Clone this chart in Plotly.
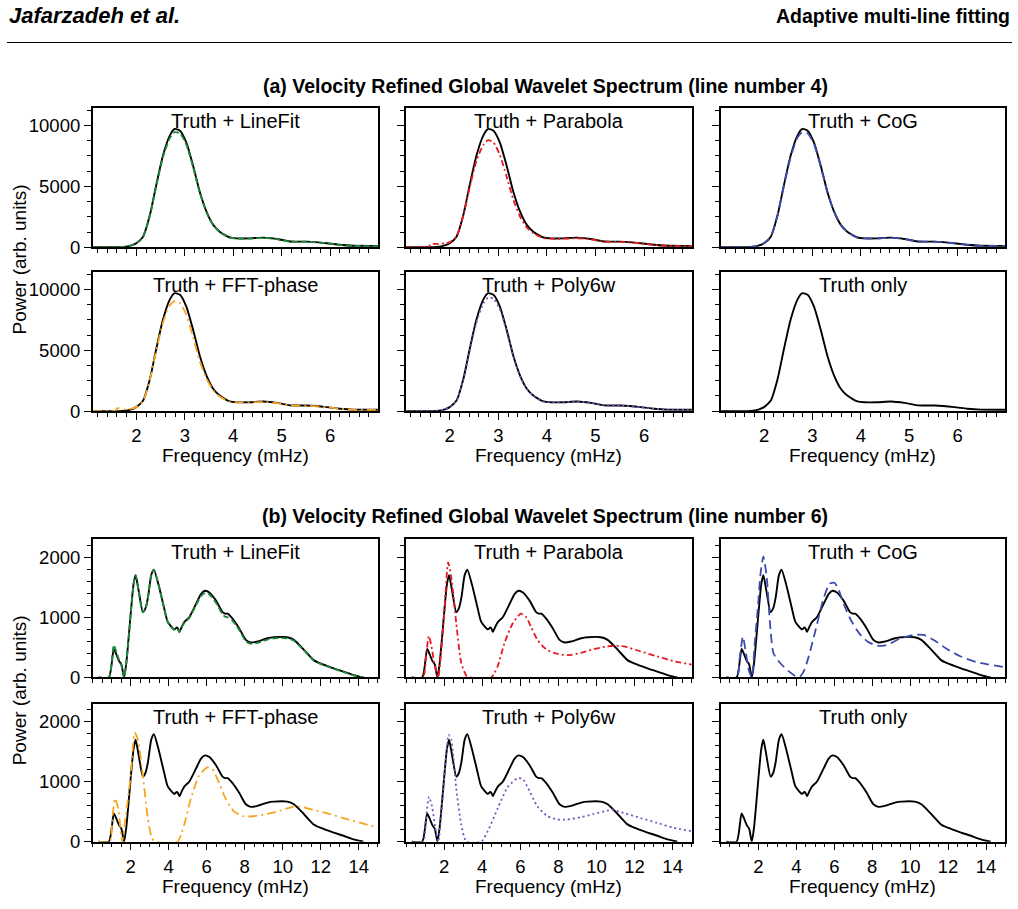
import plotly.graph_objects as go

W, H = 1018, 909

# ---------------- data: (a) line number 4 ----------------
freq_a = [1.1, 1.5, 1.72, 1.9, 2.0, 2.14, 2.28, 2.41, 2.55, 2.69, 2.79, 2.9, 3.03, 3.17, 3.31,
          3.45, 3.59, 3.72, 3.85, 3.93, 4.07, 4.34, 4.62, 4.9, 5.17, 5.52, 5.93, 6.2, 6.48, 7.0]
truth_a = [0, 0, 20, 150, 330, 870, 2640, 5090, 7530, 9170, 9710, 9570, 8620, 6720, 4540,
           2910, 1820, 1280, 950, 800, 730, 730, 790, 680, 470, 460, 330, 200, 120, 110]
linefit_a = [0, 0, 20, 150, 330, 860, 2600, 5000, 7400, 8950, 9450, 9350, 8450, 6600, 4450,
             2850, 1780, 1250, 930, 790, 720, 720, 770, 660, 460, 450, 320, 190, 110, 100]
cog_a = [0, 0, 20, 150, 330, 880, 2650, 5050, 7400, 9000, 9450, 9350, 8500, 6650, 4500,
         2900, 1820, 1280, 950, 800, 730, 730, 790, 680, 470, 460, 330, 200, 120, 110]
poly_a = [0, 0, 20, 150, 330, 860, 2600, 4950, 7300, 8850, 9350, 9250, 8400, 6600, 4450,
          2850, 1800, 1270, 940, 790, 730, 730, 780, 680, 470, 460, 330, 200, 120, 110]
freq_a_bump = [1.1, 1.5, 1.55, 1.62, 1.75, 1.9, 2.0, 2.14, 2.28, 2.41, 2.55, 2.69, 2.79, 2.9, 3.03,
               3.17, 3.31, 3.45, 3.59, 3.72, 3.85, 3.93, 4.07, 4.34, 4.62, 4.9, 5.17, 5.52, 5.93,
               6.2, 6.48, 7.0]
parab_a = [0, 0, 0, 250, 280, 320, 420, 900, 2600, 4900, 7100, 8400, 8800, 8600, 7600,
           5800, 3900, 2500, 1600, 1150, 880, 760, 700, 700, 740, 650, 460, 440, 320,
           200, 120, 110]
fft_a = [0, 0, 0, 250, 150, 200, 330, 860, 2600, 4950, 7300, 8700, 9050, 8900, 7950,
         6100, 4100, 2650, 1700, 1200, 900, 780, 720, 720, 760, 660, 460, 450, 320,
         200, 110, 100]

# ---------------- data: (b) line number 6 ----------------
freq_b = [0.3, 0.85, 1.11, 1.25, 1.39, 1.51, 1.65, 1.77, 2.03, 2.15, 2.26, 2.42, 2.64, 2.78,
          2.91, 3.08, 3.22, 3.46, 3.75, 3.95, 4.3, 4.42, 4.48, 4.56, 4.7, 4.83, 5.09, 5.44,
          5.7, 5.91, 6.14, 6.49, 6.83, 6.97, 7.1, 7.36, 7.71, 8.06, 8.32, 8.67, 9.2, 9.54,
          10.24, 10.59, 11.11, 11.63, 11.98, 12.68, 13.2, 13.73, 14.08, 14.25]
truth_b = [0, 0, 472, 380, 272, 217, 0, 244, 1167, 1550, 1700, 1440, 1086, 1150,
           1330, 1700, 1792, 1547, 1167, 923, 798, 830, 815, 760, 850, 923, 1005, 1222,
           1385, 1440, 1412, 1276, 1086, 1060, 1059, 977, 815, 624, 581, 597, 652, 668,
           668, 624, 462, 288, 233, 152, 98, 38, 11, 0]
linefit_b = [0, 0, 540, 420, 290, 200, 0, 244, 1167, 1550, 1700, 1430, 1080, 1140,
             1330, 1700, 1790, 1540, 1160, 915, 790, 820, 805, 750, 840, 910, 990, 1200,
             1350, 1400, 1380, 1240, 1050, 1010, 1000, 940, 790, 600, 560, 575, 630, 650,
             650, 610, 450, 280, 225, 145, 90, 35, 10, 0]
freq_b_parab = [0.3, 0.9, 1.05, 1.2, 1.34, 1.51, 1.69, 1.85, 2.03, 2.21, 2.38, 2.64, 2.9, 3.17,
                3.34, 4.47, 4.65, 4.82, 5.17, 5.6, 6.03, 6.3, 6.56, 6.9, 7.34, 7.77, 8.47,
                9.17, 9.86, 10.56, 10.9, 11.43, 12.3, 13.17, 14.03, 15.0]
parab_b = [0, 0, 350, 690, 516, 190, 0, 450, 1167, 1911, 1656, 896, 244, 27,
           0, 0, 80, 190, 570, 896, 1059, 1005, 842, 624, 472, 407, 370,
           407, 472, 516, 527, 516, 434, 353, 272, 215]
freq_b_cog = [0.3, 0.87, 1.02, 1.18, 1.34, 1.48, 1.65, 1.8, 1.97, 2.12, 2.26, 2.44, 2.61, 2.79,
              3.13, 3.57, 4.0, 4.18, 4.44, 4.97, 5.4, 5.75, 6.0, 6.18, 6.53, 6.88, 7.31,
              7.75, 8.27, 8.8, 9.5, 10.2, 10.7, 11.24, 11.94, 12.64, 13.5, 15.0]
cog_b = [0, 0, 340, 679, 407, 136, 0, 550, 1167, 1750, 2009, 1656, 896, 407,
         244, 109, 16, 16, 136, 733, 1276, 1558, 1575, 1493, 1195, 950, 733,
         597, 527, 543, 652, 706, 706, 624, 472, 353, 255, 170]
freq_b_fft = [0.3, 0.9, 1.03, 1.17, 1.34, 1.55, 1.75, 2.0, 2.21, 2.38, 2.64, 2.9, 3.08, 3.25,
              4.47, 4.65, 4.82, 5.17, 5.6, 6.03, 6.3, 6.56, 6.99, 7.43, 7.95, 8.47, 9.17,
              9.86, 10.56, 10.9, 11.6, 12.47, 13.34, 14.2, 15.0]
fft_b = [0, 0, 360, 722, 559, 0, 450, 1102, 1819, 1700, 1102, 396, 98, 0,
         0, 120, 288, 722, 1102, 1238, 1211, 1048, 722, 505, 424, 424, 462,
         516, 586, 586, 532, 462, 380, 304, 235]
freq_b_poly = [0.3, 0.9, 1.05, 1.2, 1.37, 1.51, 1.69, 1.95, 2.24, 2.38, 2.64, 2.9, 3.17, 3.95,
               4.3, 4.82, 5.34, 5.86, 6.12, 6.38, 6.9, 7.43, 7.95, 8.47, 9.17, 9.86, 10.56,
               10.82, 11.43, 12.3, 13.17, 14.03, 15.0]
poly_b = [0, 0, 380, 749, 586, 288, 0, 830, 1781, 1700, 885, 288, 0, 0,
          179, 559, 912, 1059, 1048, 912, 586, 424, 369, 369, 407, 462, 516,
          532, 478, 396, 315, 233, 175]

# ---------------- tick labels / texts ----------------
xticks_a = [2, 3, 4, 5, 6]
yticks_a = [0, 5000, 10000]
yticklabels_a = ["0", "5000", "10000"]
xticks_b = [2, 4, 6, 8, 10, 12, 14]
yticks_b = [0, 1000, 2000]
yticklabels_b = ["0", "1000", "2000"]

titles = ["Truth + LineFit", "Truth + Parabola", "Truth + CoG",
          "Truth + FFT-phase", "Truth + Poly6w", "Truth only"]
section_titles = ["(a) Velocity Refined Global Wavelet Spectrum (line number 4)",
                  "(b) Velocity Refined Global Wavelet Spectrum (line number 6)"]

GREEN, RED, BLUE, ORANGE, PURPLE = "#1f8a3c", "#e8191f", "#3c4cae", "#f5a51e", "#7b55b9"
styles = [(GREEN, "6px,3px"), (RED, "6px,3px,2px,3px"), (BLUE, "9px,5px"),
          (ORANGE, "9px,4px,2px,4px"), (PURPLE, "2px,3px"), None]

fits_a = [(freq_a, linefit_a), (freq_a_bump, parab_a), (freq_a, cog_a),
          (freq_a_bump, fft_a), (freq_a, poly_a), None]
fits_b = [(freq_b, linefit_b), (freq_b_parab, parab_b), (freq_b_cog, cog_b),
          (freq_b_fft, fft_b), (freq_b_poly, poly_b), None]

cols_px = [(92.7, 377.7), (406.0, 691.7), (720.5, 1005.0)]
rows_px = [(109, 250), (275, 415.7), (545, 685), (711.7, 851)]

def xp(px):
    return px / W

def yp(py):
    return 1 - py / H

FONT = "Liberation Sans, Arial, Helvetica, sans-serif"
fig = go.Figure()
layout = {}
annotations = []

for i in range(12):
    r, c = i // 3, i % 3
    section = 0 if r < 2 else 1
    k = (r % 2) * 3 + c
    ax = "" if i == 0 else str(i + 1)
    if section == 0:
        fx, fy = freq_a, truth_a
        fit = fits_a[k]
        xr, xt, xminor = [1.1, 6.98], xticks_a, 0.2
        yr, yt, ytt, yminor = [0, 11450], yticks_a, yticklabels_a, 1250
    else:
        fx, fy = freq_b, truth_b
        fit = fits_b[k]
        xr, xt, xminor = [0, 15], xticks_b, 0.5
        yr, yt, ytt, yminor = [0, 2300], yticks_b, yticklabels_b, 200
    fig.add_trace(go.Scatter(x=fx, y=fy, mode="lines", xaxis="x" + ax, yaxis="y" + ax,
                             line=dict(color="black", width=1.9, shape="spline", smoothing=0.6),
                             showlegend=False, hoverinfo="skip"))
    if fit is not None:
        col, dash = styles[k]
        fig.add_trace(go.Scatter(x=fit[0], y=fit[1], mode="lines", xaxis="x" + ax, yaxis="y" + ax,
                                 line=dict(color=col, width=1.8, dash=dash, shape="spline",
                                           smoothing=0.6),
                                 showlegend=False, hoverinfo="skip"))
    x0, x1 = cols_px[c]
    y0, y1 = rows_px[r]
    common = dict(showline=True, linecolor="black", linewidth=1.5, mirror=True,
                  ticks="outside", tickcolor="black", tickwidth=1.2, ticklen=7,
                  showgrid=False, zeroline=False, tickmode="array",
                  tickfont=dict(family=FONT, size=18.5, color="black"))
    layout["xaxis" + ax] = dict(common, domain=[xp(x0), xp(x1)], range=xr, tickvals=xt,
                                ticktext=[str(v) for v in xt],
                                anchor="y" + ax, showticklabels=(r % 2 == 1),
                                minor=dict(ticks="outside", dtick=xminor, tick0=0, ticklen=4,
                                           tickcolor="black", tickwidth=1.2))
    layout["yaxis" + ax] = dict(common, domain=[yp(y1), yp(y0)], range=yr, tickvals=yt,
                                ticktext=ytt,
                                anchor="x" + ax, showticklabels=(c == 0),
                                minor=dict(ticks="outside", dtick=yminor, tick0=0, ticklen=4,
                                           tickcolor="black", tickwidth=1.2))
    annotations.append(dict(text=titles[k], x=xp((x0 + x1) / 2), y=yp(y0 + 13),
                            xref="paper", yref="paper", xanchor="center", yanchor="middle",
                            showarrow=False, font=dict(family=FONT, size=20, color="black")))
    if r % 2 == 1:
        annotations.append(dict(text="Frequency (mHz)", x=xp((x0 + x1) / 2), y=yp(y1 + 45),
                                xref="paper", yref="paper", xanchor="center", yanchor="middle",
                                showarrow=False, font=dict(family=FONT, size=19, color="black")))

for s, (ya, yb) in enumerate([(109, 415.7), (545, 851)]):
    annotations.append(dict(text="Power (arb. units)", x=xp(19), y=yp((ya + yb) / 2),
                            xref="paper", yref="paper", xanchor="center", yanchor="middle",
                            textangle=-90, showarrow=False,
                            font=dict(family=FONT, size=19, color="black")))
    annotations.append(dict(text="<b>" + section_titles[s] + "</b>", x=xp(545),
                            y=yp(87 if s == 0 else 522), xref="paper", yref="paper",
                            xanchor="center", yanchor="middle", showarrow=False,
                            font=dict(family=FONT, size=19.5, color="black")))

annotations.append(dict(text="<b><i>Jafarzadeh et al.</i></b>", x=xp(7), y=yp(16),
                        xref="paper", yref="paper", xanchor="left", yanchor="middle",
                        showarrow=False, font=dict(family=FONT, size=22, color="black")))
annotations.append(dict(text="<b>Adaptive multi-line fitting</b>", x=xp(1012), y=yp(16),
                        xref="paper", yref="paper", xanchor="right", yanchor="middle",
                        showarrow=False, font=dict(family=FONT, size=19.5, color="black")))

fig.update_layout(**layout)
fig.update_layout(
    width=W, height=H, margin=dict(l=0, r=0, t=0, b=0),
    paper_bgcolor="white", plot_bgcolor="white",
    annotations=annotations,
    shapes=[dict(type="line", xref="paper", yref="paper", x0=xp(7), x1=xp(1012),
                 y0=yp(43), y1=yp(43), line=dict(color="black", width=1))],
)
fig.write_html("out.html")
